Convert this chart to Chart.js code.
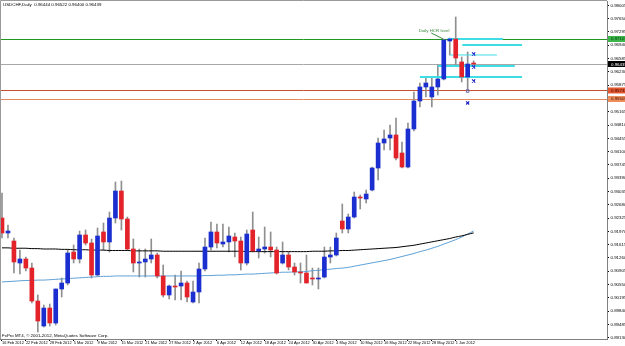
<!DOCTYPE html>
<html>
<head>
<meta charset="utf-8">
<script src="https://cdn.jsdelivr.net/npm/chart.js@4.4.1/dist/chart.umd.min.js"></script>
<style>
  html, body { margin: 0; padding: 0; background: #fff; }
  #chart { display: block; }
</style>
</head>
<body>
<canvas id="chart" width="625" height="346"></canvas>
<script>
// USDCHF daily bars, 16 Feb - 6 Jun 2012
const dates = [
  '16 Feb 2012','17 Feb 2012','20 Feb 2012','21 Feb 2012','22 Feb 2012','23 Feb 2012','24 Feb 2012','27 Feb 2012','28 Feb 2012','29 Feb 2012',
  '1 Mar 2012','2 Mar 2012','5 Mar 2012','6 Mar 2012','7 Mar 2012','8 Mar 2012','9 Mar 2012','12 Mar 2012','13 Mar 2012','14 Mar 2012',
  '15 Mar 2012','16 Mar 2012','19 Mar 2012','20 Mar 2012','21 Mar 2012','22 Mar 2012','23 Mar 2012','26 Mar 2012','27 Mar 2012','28 Mar 2012',
  '29 Mar 2012','30 Mar 2012','2 Apr 2012','3 Apr 2012','4 Apr 2012','5 Apr 2012','6 Apr 2012','9 Apr 2012','10 Apr 2012','11 Apr 2012',
  '12 Apr 2012','13 Apr 2012','16 Apr 2012','17 Apr 2012','18 Apr 2012','19 Apr 2012','20 Apr 2012','23 Apr 2012','24 Apr 2012','25 Apr 2012',
  '26 Apr 2012','27 Apr 2012','30 Apr 2012','1 May 2012','2 May 2012','3 May 2012','4 May 2012','7 May 2012','8 May 2012','9 May 2012',
  '10 May 2012','11 May 2012','14 May 2012','15 May 2012','16 May 2012','17 May 2012','18 May 2012','21 May 2012','22 May 2012','23 May 2012',
  '24 May 2012','25 May 2012','28 May 2012','29 May 2012','30 May 2012','31 May 2012','1 Jun 2012','4 Jun 2012','5 Jun 2012','6 Jun 2012'
];

const opens = [
  .92327,.91927,.91713,.91126,.91233,.90992,.90111,.89444,.89924,.89524,
  .90432,.90592,.91420,.91233,.91874,.91660,.90806,.91954,.91687,.92327,
  .93048,.92301,.91500,.91126,.91153,.91233,.91340,.90779,.90272,.90512,
  .90512,.90592,.90085,.90352,.90966,.91553,.91954,.91633,.91687,.91820,
  .91713,.91126,.92007,.91446,.91500,.91553,.91473,.91126,.91340,.91019,
  .90886,.90859,.90725,.90699,.90752,.91286,.91340,.92247,.92034,.92354,
  .92888,.92835,.93075,.93662,.94330,.94463,.94544,.94063,.93689,.94704,
  .95451,.95825,.95558,.95825,.96039,.97053,.97107,.96493,.96092,.96444
];
const highs = [
  .92995,.92141,.91793,.91473,.91286,.91126,.90272,.90005,.90031,.90432,
  .90725,.91473,.91607,.91980,.92007,.91767,.92060,.92194,.92488,.93289,
  .93315,.92354,.91767,.91500,.91500,.91767,.91393,.91073,.90539,.90806,
  .90912,.90645,.90645,.91126,.91793,.92221,.92167,.92167,.92087,.91927,
  .91820,.92007,.92488,.91820,.92087,.91954,.91553,.91687,.91420,.91126,
  .91126,.91340,.90992,.90992,.91553,.91553,.91927,.92701,.92434,.93022,
  .92942,.93075,.93689,.94463,.94677,.94811,.94997,.94357,.94864,.95692,
  .95932,.96092,.96092,.96413,.97107,.97133,.97694,.96626,.96760,.96522
];
const lows = [
  .91793,.91793,.90859,.90832,.90912,.90058,.89284,.89417,.89444,.89471,
  .90218,.90539,.91126,.91126,.91607,.90725,.90779,.91473,.91420,.92194,
  .92007,.91473,.90886,.90752,.90752,.91126,.90725,.90218,.90165,.90138,
  .90138,.90085,.90058,.90058,.90912,.91473,.91526,.91553,.91420,.91286,
  .90939,.91073,.91420,.91259,.91393,.91286,.90832,.91099,.90939,.90806,
  .90592,.90592,.90539,.90432,.90725,.91126,.91313,.91927,.91927,.92327,
  .92568,.92728,.93048,.93342,.94143,.94143,.93876,.93662,.93662,.94650,
  .95291,.95558,.95291,.95612,.96012,.96680,.96413,.95959,.95745,.96400
];
const closes = [
  .91927,.91980,.91153,.91233,.90992,.90111,.89577,.89924,.89524,.90432,
  .90592,.91393,.91233,.91874,.91660,.90806,.91847,.91687,.92327,.93048,
  .92301,.91500,.91126,.91153,.91233,.91340,.90779,.90272,.90512,.90485,
  .90592,.90218,.90352,.90966,.91553,.91954,.91660,.91687,.91847,.91713,
  .91126,.91900,.91446,.91500,.91553,.91473,.90859,.91340,.91019,.90886,
  .90859,.90592,.90699,.90725,.91286,.91340,.91793,.92034,.92354,.92888,
  .92861,.92968,.93662,.94330,.94437,.94544,.93929,.93689,.94704,.95451,
  .95825,.95932,.95825,.96039,.97080,.97107,.96599,.96092,.96439,.96439
];

// moving averages
const maBlack = [
  .9153,.9153,.9152,.9152,.9152,.9151,.9151,.9150,.9150,.9150,
  .9149,.9149,.9148,.9148,.9148,.9147,.9147,.9147,.9146,.9146,
  .9146,.9146,.9145,.9145,.9145,.9145,.9145,.9144,.9144,.9144,
  .9144,.9144,.9144,.9144,.9144,.9144,.9144,.9144,.9144,.9144,
  .9144,.9143,.9143,.9143,.9143,.9143,.9143,.9143,.9143,.9143,
  .9143,.9143,.9144,.9144,.9144,.9145,.9145,.9146,.9146,.9147,
  .9148,.9149,.9150,.9151,.9152,.9153,.9154,.9156,.9158,.9160,
  .9163,.9166,.9169,.9172,.9175,.9178,.9182,.9185,.9189,.9193
];
const maBlue = [
  .9062,.9063,.9064,.9065,.9066,.9066,.9067,.9067,.9068,.9069,
  .9070,.9071,.9072,.9073,.9074,.9075,.9076,.9077,.9077,.9078,
  .9078,.9078,.9078,.9078,.9078,.9078,.9078,.9078,.9078,.9078,
  .9078,.9078,.9078,.9078,.9079,.9079,.9080,.9080,.9081,.9081,
  .9082,.9083,.9083,.9084,.9085,.9086,.9087,.9088,.9088,.9089,
  .9089,.9090,.9092,.9093,.9095,.9096,.9098,.9099,.9101,.9104,
  .9107,.9110,.9113,.9116,.9119,.9122,.9126,.9130,.9134,.9138,
  .9143,.9147,.9152,.9157,.9163,.9169,.9175,.9182,.9190,.9198
];

const priceTicks = [
  0.98005,0.97650,0.97295,0.96940,0.96585,0.96230,0.95875,0.95520,0.95165,0.94810,
  0.94455,0.94100,0.93745,0.93390,0.93035,0.92680,0.92325,0.91970,0.91615,0.91260,
  0.90905,0.90550,0.90195,0.89840,0.89485,0.89130
];

// drawn objects
const hcrLevel = 0.97107;
const bidPrice = 0.96439;
const redLevels = [0.95732, 0.95505];
const cyanLevels = [0.97107, 0.96947, 0.96680, 0.96386, 0.96092];
const cyanFrom = [74.7, 77.1, 75.0, 73.0, 70.0];
const cyanTo = [83.9, 87.1, 82.9, 85.9, 87.1];
const crossBars = [79, 79, 79, 78];
const crossPrices = [0.96706, 0.96359, 0.95985, 0.95398];
const boxBars = [78];
const boxPrices = [0.95718];

const FONT = { family: 'Liberation Sans, Arial, sans-serif', size: 4.4 };
const XFONT = { family: 'Liberation Sans, Arial, sans-serif', size: 3.9 };
const UP = '#1b2fd0', DOWN = '#e3222a';

const candleColors = closes.map((c, i) => c >= opens[i] ? UP : DOWN);

const datasets = [
  {
    type: 'bar',
    data: opens.map((o, i) => ({ x: i, y: [o, closes[i]] })),
    backgroundColor: candleColors,
    barThickness: 4,
    minBarLength: 1,
    grouped: false,
    order: 1
  },
  {
    type: 'bar',
    data: lows.map((l, i) => ({ x: i, y: [l, highs[i]] })),
    backgroundColor: '#8f8f8f',
    barThickness: 1,
    grouped: false,
    order: 4
  },
  {
    type: 'line',
    data: maBlack.map((v, i) => ({ x: i, y: v })),
    borderColor: '#000',
    borderWidth: 1,
    pointRadius: 0,
    tension: 0.3,
    order: 3
  },
  {
    type: 'line',
    data: maBlue.map((v, i) => ({ x: i, y: v })),
    borderColor: '#5b9fd6',
    borderWidth: 1,
    pointRadius: 0,
    tension: 0.3,
    order: 3
  },
  {
    type: 'line',
    data: crossBars.map((b, i) => ({ x: b, y: crossPrices[i] })),
    showLine: false,
    pointStyle: 'crossRot',
    pointRadius: 2.2,
    pointBorderWidth: 1.2,
    pointBorderColor: '#2424c8',
    order: 0
  },
  {
    type: 'line',
    data: boxBars.map((b, i) => ({ x: b, y: boxPrices[i] })),
    showLine: false,
    pointStyle: 'rect',
    pointRadius: 1.8,
    pointBorderWidth: 1,
    pointBorderColor: '#6868a8',
    pointBackgroundColor: 'rgba(0,0,0,0)',
    order: 0
  }
];

cyanLevels.forEach((lvl, i) => {
  datasets.push({
    type: 'line',
    data: [{ x: cyanFrom[i], y: lvl }, { x: cyanTo[i], y: lvl }],
    borderColor: '#3fdde6',
    borderWidth: i === 2 ? 1 : 2,
    pointRadius: 0,
    order: 2
  });
});

// full-width level lines, the texts and the coloured price boxes on the axis
const overlay = {
  id: 'overlay',
  beforeDatasetsDraw(chart) {
    const { ctx, chartArea: a, scales: { y } } = chart;
    const hline = (v, color) => {
      const py = Math.round(y.getPixelForValue(v)) + 0.5;
      ctx.strokeStyle = color;
      ctx.lineWidth = 1;
      ctx.beginPath();
      ctx.moveTo(a.left, py);
      ctx.lineTo(a.right, py);
      ctx.stroke();
    };
    ctx.save();
    hline(bidPrice, '#a8a8a8');
    hline(redLevels[0], '#c9502c');
    hline(redLevels[1], '#e48a5e');
    hline(hcrLevel, '#1f9a1f');
    ctx.restore();
  },
  afterDraw(chart) {
    const { ctx, chartArea: a, scales: { x, y } } = chart;
    ctx.save();
    // frame
    ctx.strokeStyle = '#9a9a9a';
    ctx.lineWidth = 1;
    ctx.beginPath();
    ctx.moveTo(a.left + 0.5, a.bottom);
    ctx.lineTo(a.left + 0.5, a.top - 0.5);
    ctx.lineTo(a.right, a.top - 0.5);
    ctx.stroke();

    ctx.font = `${FONT.size}px ${FONT.family}`;
    ctx.textBaseline = 'middle';
    ctx.textAlign = 'left';
    ctx.fillStyle = '#000';
    ctx.fillText('USDCHF,Daily  0.96444 0.96522 0.96400 0.96439', a.left + 3, a.top + 3.5);
    ctx.fillText('FxPro MT4, \u00a9 2001-2012, MetaQuotes Software Corp.', a.left + 2, a.bottom - 3.5);

    // label of the HCR level
    const hy = y.getPixelForValue(hcrLevel);
    ctx.fillStyle = '#3c8a3c';
    ctx.fillText('Daily HCR level', x.getPixelForValue(69.8), hy - 8);
    ctx.strokeStyle = '#3c8a3c';
    ctx.beginPath();
    ctx.moveTo(x.getPixelForValue(71.9), hy - 6);
    ctx.lineTo(x.getPixelForValue(73.9), hy);
    ctx.stroke();

    const box = (v, bg, fg) => {
      const py = y.getPixelForValue(v);
      ctx.fillStyle = bg;
      ctx.fillRect(a.right + 1, py - 3, 20, 6);
      ctx.fillStyle = fg;
      ctx.fillText(v.toFixed(5), a.right + 4, py + 0.3);
    };
    box(hcrLevel, '#39b54a', '#0b3a0b');
    box(bidPrice, '#000', '#fff');
    box(redLevels[0], '#e2572f', '#3a0a00');
    box(redLevels[1], '#ee8c5a', '#3a0a00');
    ctx.restore();
  }
};

new Chart(document.getElementById('chart'), {
  type: 'bar',
  data: { datasets },
  options: {
    responsive: false,
    animation: false,
    devicePixelRatio: 1,
    layout: { autoPadding: false, padding: { top: 1, left: 0, right: 0, bottom: 0 } },
    plugins: { legend: { display: false }, tooltip: { enabled: false } },
    scales: {
      x: {
        type: 'linear',
        offset: false,
        min: -0.335,
        max: 101.34,
        afterBuildTicks: s => {
          s.ticks = dates.map((d, i) => i).filter(i => i % 4 === 0).map(v => ({ value: v }));
        },
        afterFit: s => { s.height = 7; s.paddingLeft = 0; s.paddingRight = 0; },
        ticks: {
          autoSkip: false,
          maxRotation: 0,
          align: 'start',
          padding: 0,
          color: '#000',
          font: XFONT,
          callback: v => dates[v]
        },
        grid: { drawOnChartArea: false, offset: false, tickLength: 2, color: '#000' },
        border: { color: '#808080' }
      },
      y: {
        position: 'right',
        min: 0.89097,
        max: 0.98121,
        afterBuildTicks: s => { s.ticks = priceTicks.map(v => ({ value: v })); },
        afterFit: s => { s.width = 18; s.paddingTop = 0; s.paddingBottom = 0; },
        ticks: {
          padding: 1.5,
          color: '#000',
          font: FONT,
          callback: v => v.toFixed(5)
        },
        grid: { drawOnChartArea: false, tickLength: 2, color: '#000' },
        border: { color: '#808080' }
      }
    }
  },
  plugins: [overlay]
});
</script>
</body>
</html>
